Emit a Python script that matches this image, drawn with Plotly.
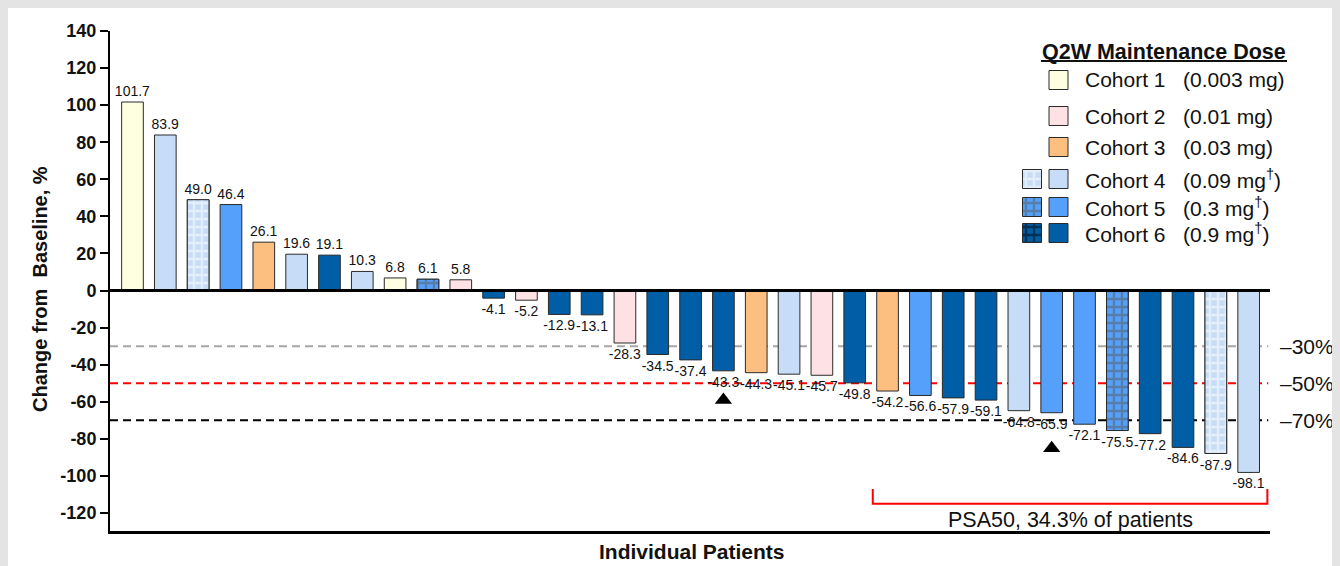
import plotly.graph_objects as go

# ---------------- data ----------------
values = [101.7, 83.9, 49.0, 46.4, 26.1, 19.6, 19.1, 10.3, 6.8, 6.1, 5.8,
          -4.1, -5.2, -12.9, -13.1, -28.3, -34.5, -37.4, -43.3, -44.3, -45.1,
          -45.7, -49.8, -54.2, -56.6, -57.9, -59.1, -64.8, -65.9, -72.1, -75.5,
          -77.2, -84.6, -87.9, -98.1]
cohorts = [1, 4, 4, 5, 3, 4, 6, 4, 1, 5, 2,
           6, 2, 6, 6, 2, 6, 6, 6, 3, 4,
           2, 6, 3, 5, 6, 6, 4, 5, 5, 5,
           6, 6, 4, 4]
checkered_idx = [2, 9, 30, 33]
triangle_idx = [18, 28]
triangle_y = [-59, -85]
thresholds = [-30, -50, -70]
threshold_labels = ["\u201330%", "\u201350%", "\u201370%"]
threshold_colors = ["#a6a6a6", "#ff0000", "#000000"]
ytick_vals = [140, 120, 100, 80, 60, 40, 20, 0, -20, -40, -60, -80, -100, -120]
ytick_text = ["140", "120", "100", "80", "60", "40", "20", "0", "-20", "-40",
              "-60", "-80", "-100", "-120"]
SP = "\u00a0\u00a0\u00a0"
legend_labels = ["Cohort 1" + SP + "(0.003 mg)", "Cohort 2" + SP + "(0.01 mg)",
                 "Cohort 3" + SP + "(0.03 mg)", "Cohort 4" + SP + "(0.09 mg<sup>\u2020</sup>)",
                 "Cohort 5" + SP + "(0.3 mg<sup>\u2020</sup>)", "Cohort 6" + SP + "(0.9 mg<sup>\u2020</sup>)"]
legend_title = "Q2W Maintenance Dose"
y_title = "Change from\u00a0\u00a0Baseline, %"
x_title = "Individual Patients"

# ---------------- styles ----------------
cohort_color = {1: "#fefee0", 2: "#fde1e4", 3: "#fdbf80", 4: "#c7ddf7",
                5: "#54a0fb", 6: "#005ea6"}
checker_other = {4: "#ffffff", 5: "#5a5a5a", 6: "#000000"}
FONT = "Arial, Liberation Sans, sans-serif"
TXT = "#111111"
OUTLINE = dict(color="#2a2a2a", width=1)
PAT_SIZE = 8
PAT_SOL = 0.5

# page-pixel -> paper helpers (plot area spans page x 110..1270, y 31..531)
PX0, PX1, PY0, PY1 = 110, 1270, 31, 531
def fx(px):
    return (px - PX0) / (PX1 - PX0)
def fy(py):
    return (PY1 - py) / (PY1 - PY0)

n = len(values)
xs = list(range(n))
labels = [f"{v:.1f}" for v in values]

fig = go.Figure()
# solid bars (all bars, with labels)
fig.add_trace(go.Bar(
    x=xs, y=values, width=0.66,
    marker=dict(color=[cohort_color[c] for c in cohorts], line=OUTLINE),
    text=labels, textposition="outside", textangle=0, constraintext="none",
    cliponaxis=False, textfont=dict(family=FONT, size=14, color=TXT),
    showlegend=False, hoverinfo="skip"))
# checkered bars drawn on top
for c in (4, 5, 6):
    idx = [i for i in checkered_idx if cohorts[i] == c]
    if not idx:
        continue
    fig.add_trace(go.Bar(
        x=idx, y=[values[i] for i in idx], width=0.66,
        marker=dict(color=cohort_color[c], line=OUTLINE,
                    pattern=dict(shape="+", fgcolor=checker_other[c], bgcolor=cohort_color[c],
                                 size=PAT_SIZE, solidity=PAT_SOL, fillmode="overlay")),
        showlegend=False, hoverinfo="skip"))

fig.add_trace(go.Scatter(
    x=triangle_idx, y=triangle_y, mode="markers",
    marker=dict(symbol="triangle-up", size=15, color="black"),
    showlegend=False, hoverinfo="skip", cliponaxis=False))

# ---------------- legend (page-pixel overlay axes) ----------------
row_y = [80, 116, 147, 179, 207, 233]
sw = 19
solid_x = 1058.5
check_x = 1032
fig.add_trace(go.Bar(
    x=[solid_x] * 6, y=[sw] * 6, base=[r - sw / 2 for r in row_y], width=sw,
    xaxis="x2", yaxis="y2",
    marker=dict(color=[cohort_color[c] for c in range(1, 7)], line=OUTLINE),
    showlegend=False, hoverinfo="skip"))
for c in (4, 5, 6):
    r = row_y[c - 1]
    fig.add_trace(go.Bar(
        x=[check_x], y=[sw], base=[r - sw / 2], width=sw, xaxis="x2", yaxis="y2",
        marker=dict(color=cohort_color[c], line=OUTLINE,
                    pattern=dict(shape="+", fgcolor=checker_other[c], bgcolor=cohort_color[c],
                                 size=PAT_SIZE, solidity=PAT_SOL, fillmode="overlay")),
        showlegend=False, hoverinfo="skip"))

annotations = []
annotations.append(dict(x=fx(1164), y=fy(52), xref="paper", yref="paper", showarrow=False,
                        text=f"<b>{legend_title}</b>", xanchor="center", yanchor="middle",
                        font=dict(family=FONT, size=21.5, color=TXT)))
for r, t in zip(row_y, legend_labels):
    annotations.append(dict(x=fx(1083), y=fy(r), xref="paper", yref="paper", showarrow=False,
                            text=t, xanchor="left", yanchor="middle",
                            font=dict(family=FONT, size=21, color=TXT)))
for t, lab in zip(thresholds, threshold_labels):
    annotations.append(dict(x=fx(1278), y=t, xref="paper", yref="y", showarrow=False,
                            text=lab, xanchor="left", yanchor="middle",
                            font=dict(family=FONT, size=21, color=TXT)))
annotations.append(dict(x=fx(40), y=fy(289), xref="paper", yref="paper", showarrow=False,
                        textangle=-90, text=f"<b>{y_title}</b>",
                        xanchor="center", yanchor="middle",
                        font=dict(family=FONT, size=20, color=TXT)))
annotations.append(dict(x=fx(692), y=fy(551), xref="paper", yref="paper", showarrow=False,
                        text=f"<b>{x_title}</b>", xanchor="center", yanchor="middle",
                        font=dict(family=FONT, size=21, color=TXT)))

# PSA50 bracket
resp = [i for i, v in enumerate(values) if v <= -50]
pct = 100 * len(resp) / n
bx0, bx1 = min(resp) - 0.45, max(resp) + 0.57
annotations.append(dict(x=(bx0 + bx1) / 2, y=-123.5, xref="x", yref="y", showarrow=False,
                        text=f"PSA50, {pct:.1f}% of patients",
                        font=dict(family=FONT, size=21.5, color=TXT)))

shapes = []
for t, c in zip(thresholds, threshold_colors):
    shapes.append(dict(type="line", xref="paper", yref="y", x0=0, x1=0.9985, y0=t, y1=t,
                       line=dict(color=c, width=2, dash="8px,5px"), layer="below"))
shapes.append(dict(type="line", xref="paper", yref="y", x0=0, x1=1, y0=0, y1=0,
                   line=dict(color="black", width=3), layer="above"))
shapes.append(dict(type="path", xref="x", yref="y",
                   path=f"M{bx0},-107 L{bx0},-115 L{bx1},-115 L{bx1},-107",
                   line=dict(color="#ff0000", width=2)))
# underline of legend title
shapes.append(dict(type="line", xref="paper", yref="paper", x0=fx(1041), x1=fx(1287),
                   y0=fy(61), y1=fy(61), line=dict(color=TXT, width=2)))

fig.update_layout(
    width=1340, height=566,
    margin=dict(l=102, r=78, t=23, b=43),
    paper_bgcolor="white", plot_bgcolor="white",
    barmode="overlay", showlegend=False,
    annotations=annotations, shapes=shapes,
    xaxis=dict(range=[-0.685, 34.65], showline=True, linewidth=3, linecolor="black",
               showticklabels=False, ticks="", showgrid=False, zeroline=False, fixedrange=True),
    yaxis=dict(range=[-129.7, 140], tickvals=ytick_vals, ticktext=ytick_text,
               showline=True, linewidth=2, linecolor="black", ticks="outside",
               ticklen=8, tickwidth=2, tickcolor="black", showgrid=False, zeroline=False,
               tickfont=dict(family=FONT, size=18, color=TXT, weight="bold"), fixedrange=True),
    xaxis2=dict(range=[PX0, PX1], overlaying="x", visible=False, fixedrange=True),
    yaxis2=dict(range=[PY1, PY0], overlaying="y", visible=False, fixedrange=True),
    font=dict(family=FONT, color=TXT),
)
fig.write_html("out.html",
               post_script="document.body.style.background='#e4e4e4';")
